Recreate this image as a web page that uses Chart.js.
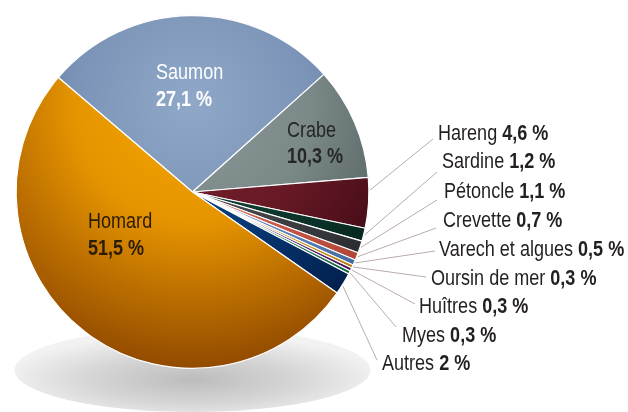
<!DOCTYPE html>
<html>
<head>
<meta charset="utf-8">
<script src="https://cdn.jsdelivr.net/npm/chart.js@4.4.1/dist/chart.umd.min.js"></script>
<style>
  html, body { margin: 0; padding: 0; background: #fff; }
  #wrap { width: 628px; height: 412px; position: relative; }
</style>
</head>
<body>
<div id="wrap"><canvas id="pieChart"></canvas></div>
<script>
// data, clockwise from the top-left seam
const categories = ["Saumon", "Crabe", "Hareng", "Sardine", "Pétoncle", "Crevette",
  "Varech et algues", "Oursin de mer", "Huîtres", "Myes", "Autres", "Homard"];
const shares = [27.1, 10.3, 4.6, 1.2, 1.1, 0.7, 0.5, 0.3, 0.3, 0.3, 2, 51.5];
const shareText = shares.map(v => String(v).replace(".", ",") + " %");

// shading: light / base / dark for each slice
const lightColors = ["#90a8c8", "#8e9a9a", "#7c2432", "#1c4c3e", "#57595d", "#e27262",
  "#7ca6da", "#f2b232", "#7c3c8c", "#3c9c78", "#124c8c", "#f5a800"];
const baseColors = ["#7b93b6", "#7b8888", "#691a26", "#0e3a2f", "#43454a", "#d25f4e",
  "#6893c8", "#e4a01a", "#692a79", "#2e8964", "#083b78", "#e59400"];
const darkColors = ["#465d8a", "#465252", "#360710", "#032019", "#202227", "#a23c2e",
  "#345e94", "#aa6c00", "#3c0e4c", "#0c5a3c", "#011a44", "#924a00"];

// text placement (left x, baselines)
const insideLabels = [
  { i: 0, x: 156, y1: 79, y2: 106, color: "#ffffff" },
  { i: 1, x: 287, y1: 137, y2: 163, color: "#262626" },
  { i: 11, x: 88, y1: 228, y2: 255, color: "#2b1c05" }
];
const outsideLabels = [
  { i: 2, x: 438, y: 140, ex: 433, ey: 139, frac: 0.25 },
  { i: 3, x: 442, y: 168, ex: 437, ey: 172, frac: 0.5 },
  { i: 4, x: 444, y: 198, ex: 437, ey: 200, frac: 0.5 },
  { i: 5, x: 443, y: 227, ex: 436, ey: 228, frac: 0.5 },
  { i: 6, x: 439, y: 256, ex: 435, ey: 251, frac: 0.5 },
  { i: 7, x: 431, y: 285, ex: 426, ey: 277, frac: 0.5 },
  { i: 8, x: 419, y: 313, ex: 415, ey: 304, frac: 0.5 },
  { i: 9, x: 402, y: 342, ex: 396, ey: 327, frac: 0.5 },
  { i: 10, x: 382, y: 370, ex: 377, ey: 360, frac: 0.6 }
];

const FONT = "'Liberation Sans', Arial, sans-serif";
const SIZE = 22;
const SQUEEZE = 0.82; // condensed look

function sliceFill(ctx) {
  const i = ctx.dataIndex;
  const area = ctx.chart.chartArea;
  if (!area) return baseColors[i];
  const cx = (area.left + area.right) / 2;
  const cy = (area.top + area.bottom) / 2;
  const r = Math.min(area.width, area.height) / 2;
  const g = ctx.chart.ctx.createRadialGradient(cx, cy - 0.5 * r, 0, cx, cy - 0.5 * r, 1.5 * r);
  g.addColorStop(0, lightColors[i]);
  g.addColorStop(0.45, baseColors[i]);
  g.addColorStop(1, darkColors[i]);
  return g;
}

// draws narrow text, returns its width
function narrowText(ctx, text, x, y, bold) {
  ctx.font = (bold ? "bold " : "") + SIZE + "px " + FONT;
  ctx.save();
  ctx.translate(x, y);
  ctx.scale(SQUEEZE, 1);
  ctx.fillText(text, 0, 0);
  ctx.restore();
  return ctx.measureText(text).width * SQUEEZE;
}

const decor = {
  id: "decor",
  beforeDatasetsDraw(chart) {
    // soft floor shadow under the pie
    const ctx = chart.ctx;
    const a = chart.chartArea;
    const cx = (a.left + a.right) / 2;
    ctx.save();
    ctx.translate(cx, 370);
    ctx.scale(1, 42 / 178);
    const g = ctx.createRadialGradient(0, 40, 0, 0, 40, 190);
    g.addColorStop(0, "#bcbcbc");
    g.addColorStop(0.55, "#d6d6d6");
    g.addColorStop(1, "#f2f2f2");
    ctx.fillStyle = g;
    ctx.beginPath();
    ctx.arc(0, 0, 178, 0, Math.PI * 2);
    ctx.fill();
    ctx.restore();
  },
  afterDraw(chart) {
    const ctx = chart.ctx;
    const arcs = chart.getDatasetMeta(0).data;
    ctx.save();

    // leader lines
    ctx.strokeStyle = "#b9aca9";
    ctx.lineWidth = 1;
    outsideLabels.forEach(l => {
      const arc = arcs[l.i];
      const ang = arc.startAngle + l.frac * (arc.endAngle - arc.startAngle);
      const r = arc.outerRadius + 1;
      ctx.beginPath();
      ctx.moveTo(arc.x + Math.cos(ang) * r, arc.y + Math.sin(ang) * r);
      ctx.lineTo(l.ex, l.ey);
      ctx.stroke();
    });

    ctx.textBaseline = "alphabetic";
    ctx.textAlign = "left";

    // labels inside the big slices
    insideLabels.forEach(l => {
      ctx.fillStyle = l.color;
      narrowText(ctx, categories[l.i], l.x, l.y1, false);
      narrowText(ctx, shareText[l.i], l.x, l.y2, true);
    });

    // labels for the small slices
    ctx.fillStyle = "#231f20";
    outsideLabels.forEach(l => {
      const w = narrowText(ctx, categories[l.i] + " ", l.x, l.y, false);
      narrowText(ctx, shareText[l.i], l.x + w, l.y, true);
    });
    ctx.restore();
  }
};

new Chart(document.getElementById("pieChart"), {
  type: "pie",
  data: {
    labels: categories,
    datasets: [{
      data: shares,
      backgroundColor: sliceFill,
      borderColor: "#ffffff",
      borderWidth: 1.2
    }]
  },
  options: {
    responsive: true,
    maintainAspectRatio: false,
    animation: false,
    rotation: -49.5,
    layout: { padding: { left: 15, top: 15, right: 258, bottom: 43 } },
    plugins: {
      legend: { display: false },
      tooltip: { enabled: false }
    }
  },
  plugins: [decor]
});
</script>
</body>
</html>
